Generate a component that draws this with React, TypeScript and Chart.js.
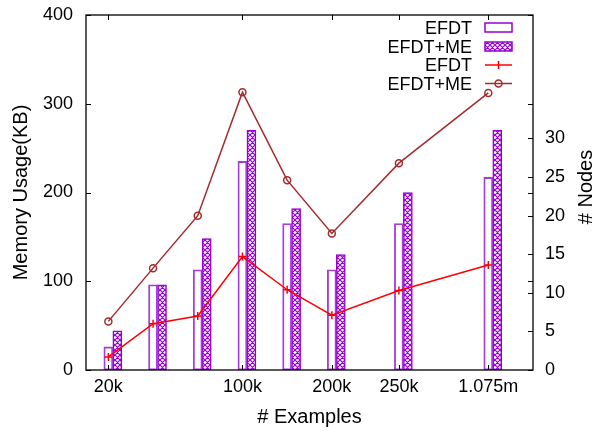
import React, { useEffect, useRef } from "react";
import { Chart, registerables } from "chart.js";

Chart.register(...registerables);

// ---- data ----
const X_POS = [0, 1, 2, 3, 4, 5, 6.5, 8.5];
const X_TICK_POS = [0, 3, 5, 6.5, 8.5];
const X_TICK_LABELS = ["20k", "100k", "200k", "250k", "1.075m"];
const MEM_EFDT = [26, 96, 113, 235, 165, 113, 165, 217];
const MEM_EFDT_ME = [44, 96, 148, 270, 182, 130, 200, 270];
const NODES_EFDT = [1.7, 6, 7, 14.7, 10.4, 7.1, 10.3, 13.6];
const NODES_EFDT_ME = [6.3, 13.2, 20, 36, 24.6, 17.7, 26.8, 35.9];
const MEM_TICKS = [0, 100, 200, 300, 400];
const NODE_TICKS = [0, 5, 10, 15, 20, 25, 30];
const LEGEND_LABELS = ["EFDT", "EFDT+ME", "EFDT", "EFDT+ME"];

const FONT = '"Liberation Sans", Arial, Helvetica, sans-serif';
const VIOLET = "#9400d3";
const RED = "#ff0000";
const BROWN = "#a52a2a";

function makeHatch(): CanvasPattern | string {
  const p = 5;
  const c = document.createElement("canvas");
  c.width = p;
  c.height = p;
  const g = c.getContext("2d");
  if (!g) return VIOLET;
  g.fillStyle = "#ffffff";
  g.fillRect(0, 0, p, p);
  g.strokeStyle = VIOLET;
  g.lineWidth = 1.2;
  g.beginPath();
  for (let k = -1; k <= 1; k++) {
    g.moveTo(-1 + k * p, -1);
    g.lineTo(p + 1 + k * p, p + 1);
    g.moveTo(-1 + k * p, p + 1);
    g.lineTo(p + 1 + k * p, -1);
  }
  g.stroke();
  const pat = g.createPattern(c, "repeat");
  return pat || VIOLET;
}

const decorPlugin = {
  id: "decor",
  afterDatasetsDraw(chart: any) {
    const { ctx, chartArea: a, scales } = chart;
    ctx.save();
    ctx.strokeStyle = "#000";
    ctx.lineWidth = 1;
    const L = 5;
    ctx.beginPath();
    scales.y.ticks.forEach((t: any) => {
      const py = Math.round(scales.y.getPixelForValue(t.value)) + 0.5;
      ctx.moveTo(a.left, py);
      ctx.lineTo(a.left + L, py);
      ctx.moveTo(a.right, py);
      ctx.lineTo(a.right - L, py);
    });
    scales.y2.ticks.forEach((t: any) => {
      const py = Math.round(scales.y2.getPixelForValue(t.value)) + 0.5;
      ctx.moveTo(a.right, py);
      ctx.lineTo(a.right - L, py);
    });
    scales.x.ticks.forEach((t: any) => {
      const px = Math.round(scales.x.getPixelForValue(t.value)) + 0.5;
      ctx.moveTo(px, a.bottom);
      ctx.lineTo(px, a.bottom - L);
      ctx.moveTo(px, a.top);
      ctx.lineTo(px, a.top + L);
    });
    ctx.stroke();
    ctx.lineWidth = 1.3;
    ctx.strokeRect(a.left, a.top, a.right - a.left, a.bottom - a.top);
    ctx.restore();
  },
  afterDraw(chart: any) {
    const { ctx, chartArea: a } = chart;
    const hatch = chart.$hatch;
    ctx.save();
    ctx.fillStyle = "#000";
    // axis titles
    ctx.font = `20px ${FONT}`;
    ctx.textAlign = "center";
    ctx.textBaseline = "alphabetic";
    ctx.fillText("# Examples", (a.left + a.right) / 2, 423);
    ctx.save();
    ctx.translate(27, (a.top + a.bottom) / 2);
    ctx.rotate(-Math.PI / 2);
    ctx.fillText("Memory Usage(KB)", 0, 0);
    ctx.restore();
    ctx.save();
    ctx.translate(592, 187);
    ctx.rotate(-Math.PI / 2);
    ctx.fillText("# Nodes", 0, 0);
    ctx.restore();

    // legend
    ctx.font = `18px ${FONT}`;
    ctx.textAlign = "right";
    const baselines = [34, 52.5, 71, 89.5];
    const textRight = 472;
    const sx0 = 485;
    const sx1 = 512;
    LEGEND_LABELS.forEach((lab, i) => {
      ctx.fillStyle = "#000";
      ctx.fillText(lab, textRight, baselines[i]);
    });
    // row 1: empty box
    ctx.lineWidth = 1.5;
    ctx.strokeStyle = VIOLET;
    ctx.strokeRect(sx0, 23, sx1 - sx0, 9);
    // row 2: hatched box
    ctx.fillStyle = hatch;
    ctx.fillRect(sx0, 42, sx1 - sx0, 9);
    ctx.strokeRect(sx0, 42, sx1 - sx0, 9);
    // row 3: red line with plus
    const cx = (sx0 + sx1) / 2;
    ctx.strokeStyle = RED;
    ctx.beginPath();
    ctx.moveTo(sx0, 65);
    ctx.lineTo(sx1, 65);
    ctx.moveTo(cx - 4, 65);
    ctx.lineTo(cx + 4, 65);
    ctx.moveTo(cx, 61);
    ctx.lineTo(cx, 69);
    ctx.stroke();
    // row 4: brown line with circle
    ctx.strokeStyle = BROWN;
    ctx.beginPath();
    ctx.moveTo(sx0, 83.5);
    ctx.lineTo(sx1, 83.5);
    ctx.stroke();
    ctx.beginPath();
    ctx.arc(cx, 83.5, 3.5, 0, Math.PI * 2);
    ctx.stroke();
    ctx.restore();
  },
};

const noPad = (s: any) => {
  s.paddingTop = 0;
  s.paddingBottom = 0;
  s.paddingLeft = 0;
  s.paddingRight = 0;
};

export default function App() {
  const ref = useRef<HTMLCanvasElement | null>(null);
  useEffect(() => {
    if (!ref.current) return;
    const hatch = makeHatch();
    const tickFont = { family: FONT, size: 18 };
    const chart: any = new Chart(ref.current, {
      type: "bar",
      data: {
        datasets: [
          {
            type: "line",
            label: "EFDT nodes",
            data: X_POS.map((x, i) => ({ x, y: NODES_EFDT[i] })),
            xAxisID: "x",
            yAxisID: "y2",
            borderColor: RED,
            borderWidth: 1.5,
            pointStyle: "cross",
            pointRadius: 4,
            pointBorderWidth: 1.5,
            pointBorderColor: RED,
            fill: false,
            tension: 0,
            order: 0,
          } as any,
          {
            type: "line",
            label: "EFDT+ME nodes",
            data: X_POS.map((x, i) => ({ x, y: NODES_EFDT_ME[i] })),
            xAxisID: "x",
            yAxisID: "y2",
            borderColor: BROWN,
            borderWidth: 1.5,
            pointStyle: "circle",
            pointRadius: 3.5,
            pointBorderWidth: 1.5,
            pointBorderColor: BROWN,
            pointBackgroundColor: "rgba(0,0,0,0)",
            fill: false,
            tension: 0,
            order: 0,
          } as any,
          {
            type: "bar",
            label: "EFDT memory",
            data: X_POS.map((x, i) => ({ x, y: MEM_EFDT[i] })),
            xAxisID: "xBar",
            yAxisID: "y",
            backgroundColor: "rgba(255,255,255,0)",
            borderColor: "#a43ddc",
            borderWidth: 1.2,
            borderSkipped: false,
            barThickness: 9,
            order: 1,
          } as any,
          {
            type: "bar",
            label: "EFDT+ME memory",
            data: X_POS.map((x, i) => ({ x, y: MEM_EFDT_ME[i] })),
            xAxisID: "xBar",
            yAxisID: "y",
            backgroundColor: hatch,
            borderColor: VIOLET,
            borderWidth: 1.5,
            borderSkipped: false,
            barThickness: 9,
            order: 1,
          } as any,
        ],
      },
      options: {
        animation: false,
        responsive: false,
        maintainAspectRatio: false,
        layout: { padding: { top: 15, left: 0, right: 0, bottom: 0 } },
        plugins: { legend: { display: false }, tooltip: { enabled: false } },
        scales: {
          x: {
            type: "linear",
            position: "bottom",
            offset: false,
            min: -0.5,
            max: 9.5,
            afterBuildTicks: (s: any) => {
              s.ticks = X_TICK_POS.map((v) => ({ value: v }));
            },
            afterFit: (s: any) => {
              s.height = 64;
              noPad(s);
            },
            ticks: {
              callback: (_v: any, i: number) => X_TICK_LABELS[i],
              font: tickFont,
              color: "#000",
              padding: 6,
              maxRotation: 0,
              autoSkip: false,
            },
            grid: { display: false, drawTicks: false, offset: false },
            border: { display: false },
          },
          xBar: {
            type: "linear",
            display: false,
            offset: false,
            grid: { offset: false },
            min: -0.6,
            max: 9.4,
          },
          y: {
            position: "left",
            min: 0,
            max: 400,
            afterBuildTicks: (s: any) => {
              s.ticks = MEM_TICKS.map((v) => ({ value: v }));
            },
            afterFit: (s: any) => {
              s.width = 86;
              noPad(s);
            },
            ticks: { font: tickFont, color: "#000", padding: 13 },
            grid: { display: false, drawTicks: false },
            border: { display: false },
          },
          y2: {
            position: "right",
            min: 0,
            max: 46,
            afterBuildTicks: (s: any) => {
              s.ticks = NODE_TICKS.map((v) => ({ value: v }));
            },
            afterFit: (s: any) => {
              s.width = 65;
              noPad(s);
            },
            ticks: { font: tickFont, color: "#000", padding: 12 },
            grid: { display: false, drawTicks: false },
            border: { display: false },
          },
        },
      } as any,
      plugins: [
        {
          id: "hatchRef",
          beforeInit(c: any) {
            c.$hatch = hatch;
          },
        },
        decorPlugin,
      ],
    });
    return () => chart.destroy();
  }, []);
  return (
    <div style={{ position: "fixed", left: 0, top: 0, width: 598, height: 434, background: "#fff" }}>
      <canvas ref={ref} width={598} height={434} style={{ display: "block", width: 598, height: 434 }} />
    </div>
  );
}
